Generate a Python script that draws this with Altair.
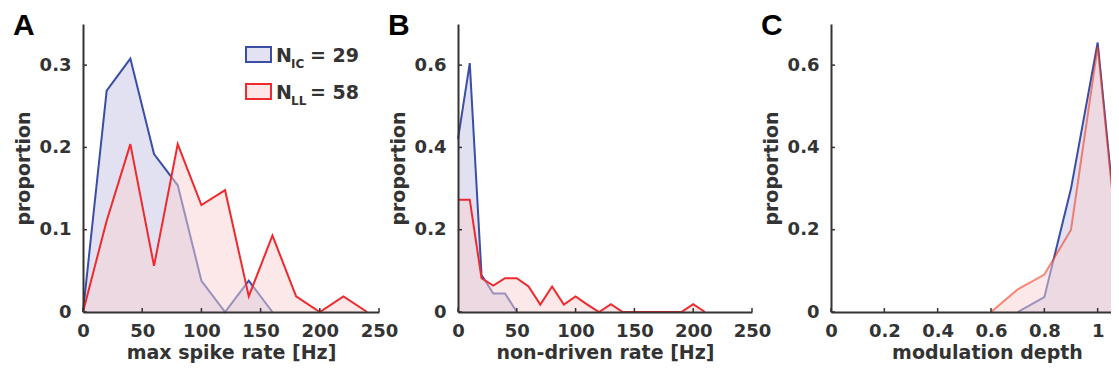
import altair as alt
import pandas as pd

# ---------------- data ----------------
# Panel A: max spike rate [Hz]
A_x_ic = [0, 20, 40, 60, 80, 100, 120, 140, 160]
A_ic = [0, 0.269, 0.308, 0.192, 0.154, 0.038, 0, 0.038, 0]
A_x_ll = [0, 20, 40, 60, 80, 100, 120, 140, 160, 180, 200, 220, 240]
A_ll = [0, 0.111, 0.204, 0.056, 0.204, 0.130, 0.148, 0.019, 0.093, 0.019, 0, 0.019, 0]

# Panel B: non-driven rate [Hz]
B_x_ic = [0, 10, 20, 30, 40, 50]
B_ic = [0.42, 0.605, 0.09, 0.045, 0.045, 0]
B_x_ll = [0, 10, 20, 30, 40, 50, 60, 70, 80, 90, 100, 110, 120, 130, 140,
          150, 160, 170, 180, 190, 200, 210]
B_ll = [0.273, 0.273, 0.082, 0.064, 0.082, 0.082, 0.062, 0.018, 0.062, 0.018,
        0.038, 0.018, 0, 0.019, 0, 0, 0, 0, 0, 0, 0.019, 0]

# Panel C: modulation depth
C_x_ic = [0.7, 0.8, 0.9, 1.0, 1.1]
C_ic = [0, 0.036, 0.30, 0.655, 0]
C_x_ll = [0.6, 0.7, 0.8, 0.9, 1.0, 1.1]
C_ll = [0, 0.055, 0.091, 0.2, 0.645, 0]

# ticks / labels
A_xticks = [0, 50, 100, 150, 200, 250]
A_yticks = [0, 0.1, 0.2, 0.3]
B_xticks = [0, 50, 100, 150, 200, 250]
B_yticks = [0, 0.2, 0.4, 0.6]
C_xticks = [0, 0.2, 0.4, 0.6, 0.8, 1.0]
C_yticks = [0, 0.2, 0.4, 0.6]

legend_names = ["IC", "LL"]
legend_counts = [29, 58]

BLUE = "#3A4EA6"
RED = "#EE2A2E"
BLUE_FILL = "#C4C4E6"
RED_FILL = "#FAD2D2"
AX = "#333333"
FONT = "DejaVu Sans"

H = 288


def panel(key, x_ic, y_ic, x_ll, y_ll, xdomain, width, xticks, yticks, ydomain,
          xtitle, letter, red_color, red_opacity, clip=False, legend=False):
    fx, fy = "x" + key, "y" + key
    ic = pd.DataFrame({fx: x_ic, fy: y_ic})
    ll = pd.DataFrame({fx: x_ll, fy: y_ll})
    xs = alt.Scale(domain=xdomain, nice=False, zero=False)
    ys = alt.Scale(domain=ydomain, nice=False, zero=False)
    xax = alt.Axis(values=xticks, format="~r", title=xtitle, ticks=False,
                   labelPadding=10, titlePadding=3, zindex=1,
                   labelFlush=False, labelOverlap=False)
    yax = alt.Axis(values=yticks, format="~r", title="proportion", ticks=False,
                   labelPadding=12, titlePadding=6, zindex=1,
                   labelFlush=False, labelOverlap=False)
    X = alt.X(f"{fx}:Q", scale=xs, axis=xax)
    Y = alt.Y(f"{fy}:Q", scale=ys, axis=yax, stack=None)

    layers = [
        alt.Chart(ic).mark_area(color=BLUE_FILL, opacity=0.5, clip=clip).encode(x=X, y=Y),
        alt.Chart(ic).mark_line(color=BLUE, strokeWidth=2, clip=clip).encode(x=X, y=Y),
        alt.Chart(ll).mark_area(color=RED_FILL, opacity=0.5, clip=clip).encode(x=X, y=Y),
        alt.Chart(ll).mark_line(color=red_color, opacity=red_opacity, strokeWidth=2, clip=clip).encode(x=X, y=Y),
    ]
    # inward tick marks
    xt = pd.DataFrame({fx: xticks})
    yt = pd.DataFrame({fy: yticks})
    layers.append(alt.Chart(xt).mark_rule(color=AX, strokeWidth=1.5).encode(
        x=X, y=alt.value(H), y2=alt.value(H - 4)))
    layers.append(alt.Chart(yt).mark_rule(color=AX, strokeWidth=1.5).encode(
        y=Y, x=alt.value(0), x2=alt.value(4)))
    # panel letter
    lt = pd.DataFrame({"t": [letter]})
    layers.append(alt.Chart(lt).mark_text(align="left", baseline="alphabetic", fontSize=30,
                                          font="Liberation Sans", fontWeight="bold",
                                          color="black").encode(
        text="t:N", x=alt.value(-70), y=alt.value(11)))
    if legend:
        for i, (nm, cnt) in enumerate(zip(legend_names, legend_counts)):
            base = 38 + i * 37
            stroke = BLUE if i == 0 else RED
            fill = "#E2E2F2" if i == 0 else "#FCE6E6"
            d = pd.DataFrame({"n": ["N"], "s": [nm], "v": [f"= {cnt}"]})
            layers.append(alt.Chart(d).mark_rect(fill=fill, stroke=stroke, strokeWidth=2).encode(
                x=alt.value(163), x2=alt.value(188), y=alt.value(base - 15), y2=alt.value(base)))
            layers.append(alt.Chart(d).mark_text(align="left", baseline="alphabetic", fontSize=19,
                                                 font=FONT, fontWeight="bold", color=AX).encode(
                text="n:N", x=alt.value(193), y=alt.value(base)))
            layers.append(alt.Chart(d).mark_text(align="left", baseline="alphabetic", fontSize=12,
                                                 font=FONT, fontWeight="bold", color=AX).encode(
                text="s:N", x=alt.value(208), y=alt.value(base + 6)))
            layers.append(alt.Chart(d).mark_text(align="left", baseline="alphabetic", fontSize=19,
                                                 font=FONT, fontWeight="bold", color=AX).encode(
                text="v:N", x=alt.value(227), y=alt.value(base)))
    return alt.layer(*layers).properties(width=width, height=H)


pA = panel("a", A_x_ic, A_ic, A_x_ll, A_ll, [0, 250], 296, A_xticks, A_yticks, [0, 0.35],
           "max spike rate [Hz]", "A", RED, 1.0, legend=True)
pB = panel("b", B_x_ic, B_ic, B_x_ll, B_ll, [0, 250], 294, B_xticks, B_yticks, [0, 0.7],
           "non-driven rate [Hz]", "B", RED, 1.0)
pC = panel("c", C_x_ic, C_ic, C_x_ll, C_ll, [0, 1.17], 312, C_xticks, C_yticks, [0, 0.7],
           "modulation depth", "C", "#F03010", 0.55, clip=True)

chart = alt.hconcat(pA, pB, pC, spacing=79, bounds="flush").properties(
    autosize=alt.AutoSizeParams(type="none"),
    padding={"left": 75, "top": 16, "right": 1028, "bottom": 342},
).configure_view(stroke=None).configure_axis(
    domainColor=AX, domainWidth=2, grid=False,
    labelFont=FONT, labelFontWeight="bold", labelFontSize=18, labelColor=AX,
    titleFont=FONT, titleFontWeight="bold", titleFontSize=19, titleColor=AX,
)

chart.save("out.html", embed_options={"renderer": "svg", "actions": False})
